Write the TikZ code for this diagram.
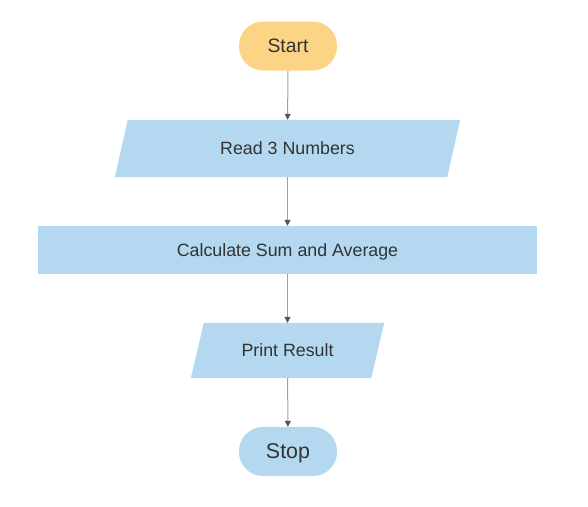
\documentclass[tikz,border=0pt]{standalone}
\usepackage{fontspec}
\setmainfont{Liberation Sans}
\usetikzlibrary{arrows.meta,backgrounds}
\definecolor{termorange}{HTML}{FCD486}
\definecolor{boxblue}{HTML}{B4D8EF}
\definecolor{txtgray}{HTML}{333333}
\definecolor{linegray}{HTML}{A0A0A0}
\definecolor{tipgray}{HTML}{555555}
\newcommand{\slantfill}[1]{%
  \fill [boxblue] ([xshift=13pt]#1.north west) -- (#1.north east)
    -- ([xshift=-13pt]#1.south east) -- (#1.south west) -- cycle;}
\begin{document}
\begin{tikzpicture}[x=1pt, y=-1pt,
      term/.style={
        rectangle, rounded corners=24pt, minimum width=98pt, minimum height=49pt,
        text=txtgray, inner sep=0pt, text depth=0pt
      },
      iobox/.style={
        rectangle, text=txtgray, inner sep=0pt, text depth=0pt,
        font=\fontsize{17.8}{20}\selectfont
      },
      procbox/.style={
        rectangle, fill=boxblue, text=txtgray, inner sep=0pt, text depth=0pt,
        font=\fontsize{17.8}{20}\selectfont
      },
      flow/.style={
        color=linegray, line width=1pt, -{Triangle[width=6pt,length=6pt,color=tipgray]}
      }
    ]
    \useasboundingbox (0,0) rectangle (588,506);
    \node [term, fill=termorange, font=\fontsize{19.4}{22}\selectfont] (start) at (288,46) {Start};
    \node [iobox, minimum width=345pt, minimum height=57pt] (read) at (287.5,148.5) {Read 3 Numbers};
    \node [procbox, minimum width=499pt, minimum height=48pt] (calc) at (287.5,250) {Calculate Sum and Average};
    \node [iobox, minimum width=193pt, minimum height=55pt] (print) at (287.5,350.5) {Print Result};
    \node [term, fill=boxblue, font=\fontsize{21.4}{24}\selectfont] (stop) at (288,451.5) {Stop};
    % input / output shapes behind their text
    \begin{pgfonlayer}{background}
      \slantfill{read}
      \slantfill{print}
    \end{pgfonlayer}
    \draw [flow] (start) -- (read);
    \draw [flow] (read) -- (calc);
    \draw [flow] (calc) -- (print);
    \draw [flow] (print) -- (stop);
  \end{tikzpicture}
\end{document}
